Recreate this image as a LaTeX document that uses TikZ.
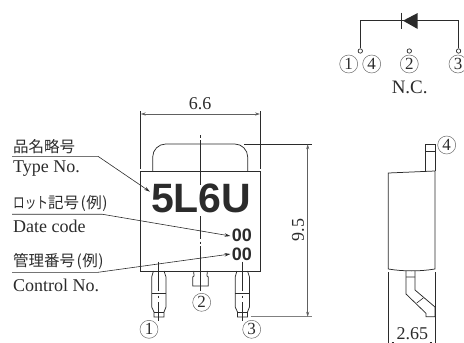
\documentclass[tikz,border=0pt]{standalone}
\usepackage{fontspec}
\setmainfont{Liberation Serif}
\newfontfamily\cjkfont{Noto Sans CJK JP}
\newfontfamily\boldsans{Liberation Sans}[BoldFont={Liberation Sans Bold}]
\usetikzlibrary{arrows.meta}
\definecolor{ink}{HTML}{2B2B2B}
\tikzset{
  part/.style={draw=ink,line width=0.75pt},
  thinline/.style={draw=ink,line width=0.6pt},
  leader/.style={draw=ink,line width=0.6pt,-{Stealth[length=6pt,width=3.4pt]}},
  dimline/.style={draw=ink!75,line width=0.7pt,{Stealth[length=5pt,width=3.2pt]}-{Stealth[length=5pt,width=3.2pt]}},
  latin/.style={inner sep=0pt,text=ink,font=\fontsize{18}{18}\selectfont},
  jp/.style={inner sep=0pt,anchor=west,text=ink,font=\cjkfont\fontsize{15.5}{16}\selectfont},
  pinno/.style={circle,draw=ink!70,line width=0.5pt,minimum size=18pt,inner sep=0pt,text=ink,font=\fontsize{17}{17}\selectfont},
  term/.style={circle,draw=ink,fill=white,line width=0.7pt,minimum size=4.4pt,inner sep=0pt},
  marktext/.style={inner sep=0pt,text=ink,font=\boldsans\bfseries\fontsize{#1}{#1}\selectfont}
}
\newcommand{\rei}{\kern1.5pt(\kern0.5pt 例\kern0.5pt)}
\begin{document}
\begin{tikzpicture}[x=1pt,y=-1pt]
\useasboundingbox (0,0) rectangle (464,343);

% --- diode schematic
\node[term] (t1) at (360.3,51) {};
\node[term] (t2) at (409.3,51) {};
\node[term] (t3) at (458.6,51) {};
\coordinate (cl) at (360.3,20.7);
\coordinate (cr) at (458.6,20.7);
\draw[thinline,line width=0.8pt] (t1) -- (cl) -- (cr) -- (t3);
\fill[ink] (403,20.7) -- (417.7,13) -- (417.7,29) -- cycle;
\draw[ink,line width=1.5pt] (401.7,12.7) -- (401.7,29.3);
\node[pinno] (a1) at (348.7,64) {1};
\node[pinno] (a4) at (371.7,64) {4};
\node[pinno] (a2) at (409.3,64) {2};
\node[pinno] (a3) at (458,64) {3};
\node[latin,font=\fontsize{19}{19}\selectfont] (nc) at (409.7,87) {N.C.};

% --- front view: body, tab
\draw[part] (140.7,171.7) rectangle (260,271);
\draw[part] (152.7,171.7) -- (152.7,157) arc[start angle=180,end angle=270,radius=13] -- (234.7,144) arc[start angle=270,end angle=360,radius=13] -- (247.7,171.7);

% leads
\foreach \s/\n in {0/la,83.5/lb}{
  \begin{scope}[xshift=\s pt]
  \draw[part] (153.4,271) -- (151.7,277) -- (151.7,307) -- (154,312) -- (154,317) -- (164,317) -- (164,312) -- (166,307) -- (166,277) -- (164,271);
  \draw[thinline] (151.7,293) -- (166,293) (154,312) -- (164,312);
  \draw[thinline] (158.7,261.7) -- (158.7,291) (158.7,295.5) -- (158.7,298) (158.7,302) -- (158.7,321);
  \end{scope}
}
\draw[part] (193.7,271) -- (194,276) -- (192.7,277) -- (192.7,286) -- (208.3,286) -- (208.3,277) -- (207,276) -- (207.3,271);

% centre line
\draw[thinline] (200.3,135) -- (200.3,137.5) (200.3,140) -- (200.3,185)
  (200.3,216) -- (200.3,239) (200.3,241.5) -- (200.3,243.5) (200.3,246) -- (200.3,291);

% marking
\node[marktext=41] (mark) at (201.2,198) {\bfseries 5L6U};
\node[marktext=18] (dc) at (241.8,235.7) {\bfseries 00};
\node[marktext=18] (cc) at (241.8,254) {\bfseries 00};

% labels and leaders
\node[jp] (l1) at (13,146.7) {品名略号};
\node[latin,anchor=west] (e1) at (13,169) {Type No.};
\coordinate (u1a) at (12,156.3); \coordinate (u1b) at (98,156.3); \coordinate (u1c) at (150,191.7);
\draw[leader] (u1a) -- (u1b) -- (u1c);
\node[jp] (l2) at (13,204) {\scalebox{0.75}[1]{ロット}記号\rei};
\node[latin,anchor=west] (e2) at (13,226) {Date code};
\coordinate (u2a) at (12,214.2); \coordinate (u2b) at (102,214.2); \coordinate (u2c) at (230.5,236);
\draw[leader] (u2a) -- (u2b) -- (u2c);
\node[jp] (l3) at (13,261.7) {管理番号\rei};
\node[latin,anchor=west] (e3) at (13,285) {Control No.};
\coordinate (u3a) at (12,272.3); \coordinate (u3b) at (98,272.3); \coordinate (u3c) at (230.5,254);
\draw[leader] (u3a) -- (u3b) -- (u3c);

% pin numbers
\node[pinno] (p1) at (149,329.3) {1};
\node[pinno] (p2) at (201.7,302.3) {2};
\node[pinno] (p3) at (251.7,329.3) {3};
\node[pinno] (p4) at (446.7,145) {4};

% dimensions: width
\draw[thinline] (140.7,111) -- (140.7,168.5) (260,111) -- (260,168.5);
\coordinate (w1) at (140.7,114); \coordinate (w2) at (260,114);
\draw[dimline] (w1) -- (w2);
\node[latin] (d66) at (200,103.5) {6.6};

% dimensions: height
\coordinate (h1) at (307.7,144.3); \coordinate (h2) at (307.7,316.7);
\draw[thinline] (244,144.3) -- (311.7,144.3);
\draw[draw=ink!60,line width=0.6pt] (250.5,316.7) -- (311.7,316.7);
\draw[dimline] (h1) -- (h2);
\node[latin,rotate=90] (d95) at (298,230) {9.5};

% side view
\draw[part] (388.3,173) -- (435,171) -- (435,269) .. controls (420,271.5) and (403,271.5) .. (388.3,269) -- cycle;
\draw[part] (425.7,171.4) -- (425.7,144.3) -- (435.7,144.3) -- (435.7,171);
\draw[thinline] (425.7,151.7) -- (435.7,151.7);
\draw[part] (406,271) -- (406,294) -- (426,313.3) -- (426,316.7) -- (435,316.7) -- (435,307) -- (415,290) -- (415,271);
\draw[thinline] (406,277) -- (415,277) (416.7,303) -- (423.3,298);
\draw[thinline] (388.5,272) -- (388.5,343) (435,272) -- (435,343);
\draw[thinline] (391.5,342.7) -- (394,342.7) (429.5,342.7) -- (432,342.7);
\node[latin] (d265) at (412.3,333.3) {2.65};
\end{tikzpicture}
\end{document}
